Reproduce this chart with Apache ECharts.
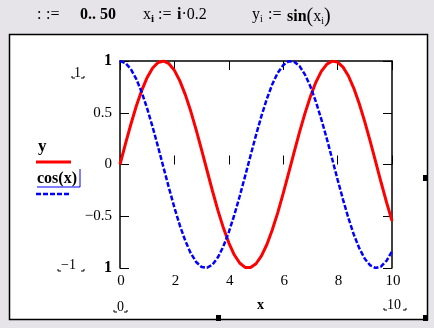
<!DOCTYPE html>
<html><head><meta charset="utf-8">
<script src="https://cdn.jsdelivr.net/npm/echarts@6/dist/echarts.min.js"></script>
<style>html,body{margin:0;padding:0;background:#e6e4e9}#c{width:434px;height:328px}</style>
</head><body><div id="c"></div>
<script>
const xs = [0,0.2,0.4,0.6,0.8,1,1.2,1.4,1.6,1.8,2,2.2,2.4,2.6,2.8,3,3.2,3.4,3.6,3.8,4,4.2,4.4,4.6,4.8,5,5.2,5.4,5.6,5.8,6,6.2,6.4,6.6,6.8,7,7.2,7.4,7.6,7.8,8,8.2,8.4,8.6,8.8,9,9.2,9.4,9.6,9.8,10];
const yVals = [0,0.199,0.389,0.565,0.717,0.841,0.932,0.985,1.0,0.974,0.909,0.808,0.675,0.516,0.335,0.141,-0.058,-0.256,-0.443,-0.612,-0.757,-0.872,-0.952,-0.994,-0.996,-0.959,-0.883,-0.773,-0.631,-0.465,-0.279,-0.083,0.117,0.312,0.494,0.657,0.794,0.899,0.968,0.999,0.989,0.941,0.855,0.734,0.585,0.412,0.223,0.025,-0.174,-0.366,-0.544];
const cosVals = [1,0.980,0.921,0.825,0.697,0.540,0.362,0.170,-0.029,-0.227,-0.416,-0.589,-0.737,-0.857,-0.942,-0.990,-0.998,-0.967,-0.897,-0.791,-0.654,-0.490,-0.307,-0.112,0.087,0.284,0.469,0.635,0.776,0.886,0.960,0.997,0.993,0.951,0.869,0.754,0.608,0.439,0.252,0.054,-0.146,-0.339,-0.520,-0.680,-0.811,-0.911,-0.975,-1.000,-0.985,-0.930,-0.839];
const seriesNames = ["y","cos(x)"];
const xTicks = [0,2,4,6,8,10];
const yTicks = [-1,-0.5,0,0.5,1];

const F = '"Liberation Serif", "DejaVu Serif", serif';
const chart = echarts.init(document.getElementById('c'), null, {renderer:'canvas'});
const pair = (a,b)=>a.map((v,i)=>[v,b[i]]);
const tickStyle = {show:true, inside:true, length:9, lineStyle:{color:'#000', width:1}};
const R = {
  n:{fontFamily:F, fontSize:16, fill:'#000'},
  b:{fontFamily:F, fontSize:16, fontWeight:'bold', fill:'#000'},
  s:{fontFamily:F, fontSize:10, fill:'#000', padding:[8,0,0,0]},
  sb:{fontFamily:F, fontSize:11, fontWeight:'bold', fill:'#000', padding:[8,0,0,0]},
  p:{fontFamily:F, fontSize:20, fill:'#000'}
};
const T = (left, text) => ({type:'text', left:left, top:7, style:{text:text, rich:R}});
chart.setOption({
  backgroundColor:'#e6e4e9',
  animation:false,
  grid:{left:120, right:42, top:61, bottom:60, containLabel:false},
  xAxis:[
    {type:'value', position:'bottom', min:0, max:10, interval:2,
     axisLine:{show:false}, axisTick:tickStyle, splitLine:{show:false},
     axisLabel:{margin:6, color:'#000', fontFamily:F, fontSize:15, padding:[0,0,0,2]}},
    {type:'value', position:'top', min:0, max:10, interval:2,
     axisLine:{show:true, onZero:false, lineStyle:{color:'#000', width:1.5}}, axisTick:tickStyle, splitLine:{show:false},
     axisLabel:{show:false}}
  ],
  yAxis:[
    {type:'value', position:'left', min:-1, max:1, interval:0.5,
     axisLine:{show:true, onZero:false, lineStyle:{color:'#000', width:1.5}}, axisTick:tickStyle, splitLine:{show:false},
     axisLabel:{margin:8, color:'#000', fontFamily:F, fontSize:15,
       formatter:v=> (v===1||v===-1) ? '{b|1}' : String(v).replace('-','\u2212'),
       rich:{b:{fontFamily:F, fontSize:16, fontWeight:'bold', color:'#000'}}}},
    {type:'value', position:'right', min:-1, max:1, interval:0.5,
     axisLine:{show:true, onZero:false, lineStyle:{color:'#000', width:1.5}}, axisTick:tickStyle, splitLine:{show:false},
     axisLabel:{show:false}}
  ],
  series:[
    {name:seriesNames[0], type:'line', data:pair(xs,yVals), showSymbol:false, symbol:'none',
     lineStyle:{color:'#ff0000', width:3}, z:3},
    {name:seriesNames[1], type:'line', data:pair(xs,cosVals), showSymbol:false, symbol:'none',
     lineStyle:{color:'#0000ff', width:2.5, type:[5,2]}, z:4}
  ],
  graphic:[
    {type:'rect', z:-100, shape:{x:9.5, y:34.5, width:418, height:285}, style:{fill:'#fff', stroke:'#000', lineWidth:1.5}},
    T(37, '{n|:}'), T(46, '{n|:=}'), T(80, '{b|0..}{n| }{b|50}'),
    T(143, '{n|x}{sb|i}'), T(158, '{n|:=}'), T(177, '{b|i}{n|\u00b70.2}'),
    T(252, '{n|y}{s|i}'), T(268, '{n|:=}'), T(287, '{b|sin}{p|(}{n|x}{s|i}{p|)}'),
    // legend
    {type:'text', left:38, top:138, style:{text:'y', fontFamily:F, fontSize:17, fontWeight:'bold', fill:'#000'}},
    {type:'line', shape:{x1:36, y1:162, x2:71, y2:162}, style:{stroke:'#ff0000', lineWidth:3}},
    {type:'text', left:37, top:171, style:{text:'cos(x)', fontFamily:F, fontSize:16, fontWeight:'bold', fill:'#000'}},
    {type:'polyline', shape:{points:[[37,187],[80,187],[80,169]]}, style:{stroke:'#0000ff', lineWidth:1, fill:null}},
    {type:'line', shape:{x1:36, y1:194, x2:70, y2:194}, style:{stroke:'#0000ff', lineWidth:2.5, lineDash:[5,2]}},
    // placeholders
    {type:'text', left:74, top:66, style:{text:'1', fontFamily:F, fontSize:14, fill:'#000'}},
    {type:'polyline', shape:{points:[[72,76],[72,78],[75,78]]}, style:{stroke:'#000', lineWidth:1, fill:null}},
    {type:'polyline', shape:{points:[[81,78],[84,78],[84,76]]}, style:{stroke:'#000', lineWidth:1, fill:null}},
    {type:'text', left:61, top:258, style:{text:'\u22121', fontFamily:F, fontSize:14, fill:'#000'}},
    {type:'polyline', shape:{points:[[58,269],[58,271],[61,271]]}, style:{stroke:'#000', lineWidth:1, fill:null}},
    {type:'polyline', shape:{points:[[81,271],[84,271],[84,269]]}, style:{stroke:'#000', lineWidth:1, fill:null}},
    {type:'text', left:117, top:300, style:{text:'0', fontFamily:F, fontSize:14, fill:'#000'}},
    {type:'polyline', shape:{points:[[114,310],[114,312],[117,312]]}, style:{stroke:'#000', lineWidth:1, fill:null}},
    {type:'polyline', shape:{points:[[124,312],[127,312],[127,310]]}, style:{stroke:'#000', lineWidth:1, fill:null}},
    {type:'text', left:257, top:298, style:{text:'x', fontFamily:F, fontSize:14, fontWeight:'bold', fill:'#000'}},
    {type:'text', left:387, top:298, style:{text:'10', fontFamily:F, fontSize:14, fill:'#000'}},
    {type:'polyline', shape:{points:[[384,308],[384,310],[387,310]]}, style:{stroke:'#000', lineWidth:1, fill:null}},
    {type:'polyline', shape:{points:[[403,310],[406,310],[406,308]]}, style:{stroke:'#000', lineWidth:1, fill:null}},
    // handles
    {type:'rect', shape:{x:216, y:315, width:5, height:6}, style:{fill:'#000'}},
    {type:'rect', shape:{x:423, y:315, width:5, height:6}, style:{fill:'#000'}},
    {type:'rect', shape:{x:423, y:175, width:5, height:6}, style:{fill:'#000'}}
  ]
});
</script></body></html>
